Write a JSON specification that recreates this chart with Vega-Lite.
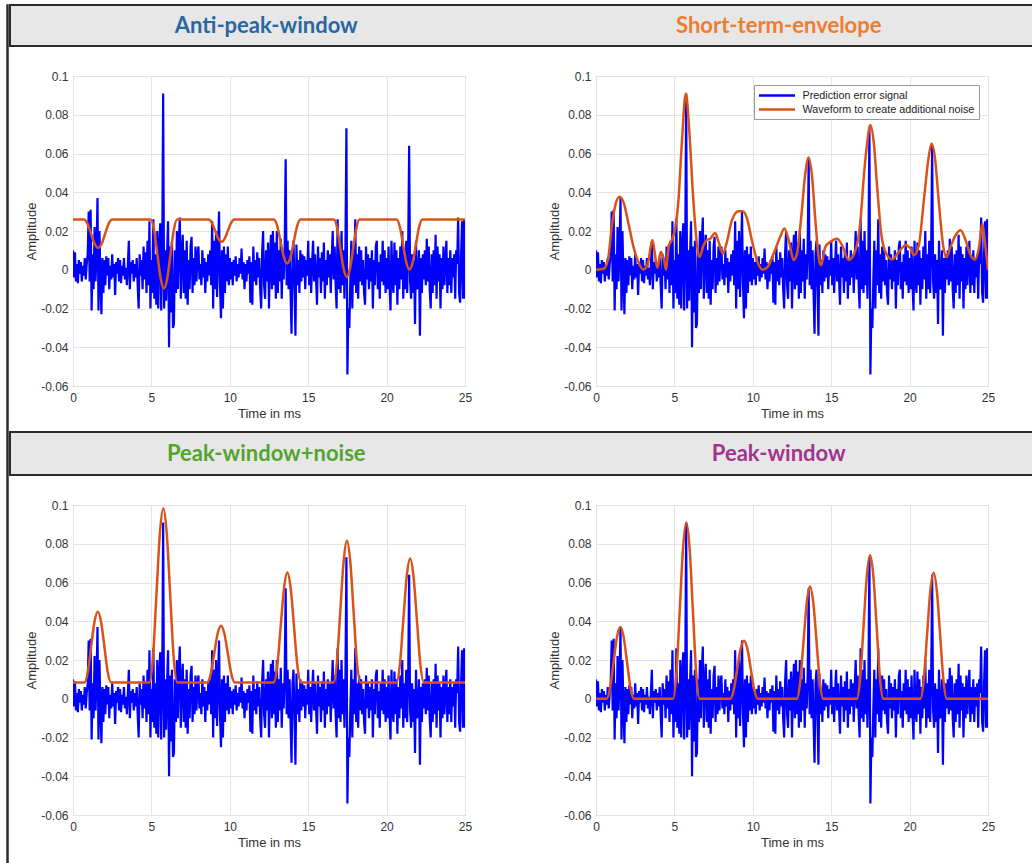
{
"$schema": "https://vega.github.io/schema/vega-lite/v6.json",
"background": "white",
"padding": {"left": 6, "top": 4, "right": 0, "bottom": 0},
"config": {
  "font": "Liberation Sans",
  "view": {"stroke": "#8c8c8c", "strokeWidth": 1},
  "axis": {"labelFont": "Liberation Sans", "titleFont": "Liberation Sans", "labelFontSize": 12, "titleFontSize": 13, "titleFontWeight": "normal", "labelColor": "#333333", "titleColor": "#333333", "ticks": false, "domain": false, "grid": true, "gridColor": "#e4e4e4", "labelOverlap": false},
  "axisX": {"labelPadding": 6, "titlePadding": 4, "tickCount": 10},
  "axisY": {"labelPadding": 5, "titlePadding": 3, "minExtent": 32, "maxExtent": 32, "tickCount": 12}
},
"datasets": {
"sig": [
{"t":0,"a":0.010},{"t":0.0625,"a":-0.004},{"t":0.125,"a":0.009},{"t":0.1875,"a":-0.006},{"t":0.25,"a":0.003},{"t":0.3125,"a":-0.007},{"t":0.375,"a":0.005},{"t":0.4375,"a":-0.002},{"t":0.5,"a":0.004},{"t":0.5625,"a":-0.006},{"t":0.625,"a":0.002},{"t":0.6875,"a":-0.003},{"t":0.75,"a":0.006},{"t":0.8125,"a":-0.005},{"t":0.875,"a":0.003},{"t":0.9375,"a":0.008},
{"t":1,"a":0.030},{"t":1.0625,"a":-0.006},{"t":1.125,"a":0.031},{"t":1.1875,"a":-0.021},{"t":1.25,"a":0.008},{"t":1.3125,"a":-0.010},{"t":1.375,"a":0.022},{"t":1.4375,"a":-0.006},{"t":1.5,"a":0.010},{"t":1.5625,"a":0.037},{"t":1.625,"a":-0.021},{"t":1.6875,"a":0.020},{"t":1.75,"a":-0.005},{"t":1.8125,"a":-0.023},{"t":1.875,"a":0.006},{"t":1.9375,"a":-0.012},
{"t":2,"a":0.005},{"t":2.0625,"a":-0.008},{"t":2.125,"a":0.007},{"t":2.1875,"a":-0.003},{"t":2.25,"a":0.006},{"t":2.3125,"a":-0.010},{"t":2.375,"a":0.002},{"t":2.4375,"a":-0.005},{"t":2.5,"a":0.008},{"t":2.5625,"a":-0.004},{"t":2.625,"a":0.003},{"t":2.6875,"a":-0.013},{"t":2.75,"a":0.004},{"t":2.8125,"a":-0.002},{"t":2.875,"a":0.006},{"t":2.9375,"a":-0.006},
{"t":3,"a":0.005},{"t":3.0625,"a":-0.007},{"t":3.125,"a":0.002},{"t":3.1875,"a":-0.003},{"t":3.25,"a":0.006},{"t":3.3125,"a":-0.005},{"t":3.375,"a":0.001},{"t":3.4375,"a":-0.008},{"t":3.5,"a":0.003},{"t":3.5625,"a":0.015},{"t":3.625,"a":-0.010},{"t":3.6875,"a":0.004},{"t":3.75,"a":-0.002},{"t":3.8125,"a":0.005},{"t":3.875,"a":-0.006},{"t":3.9375,"a":0.003},
{"t":4,"a":-0.004},{"t":4.0625,"a":0.006},{"t":4.125,"a":-0.008},{"t":4.1875,"a":-0.020},{"t":4.25,"a":0.008},{"t":4.3125,"a":-0.003},{"t":4.375,"a":0.005},{"t":4.4375,"a":-0.010},{"t":4.5,"a":0.012},{"t":4.5625,"a":-0.005},{"t":4.625,"a":0.009},{"t":4.6875,"a":-0.012},{"t":4.75,"a":0.015},{"t":4.8125,"a":-0.008},{"t":4.875,"a":0.025},{"t":4.9375,"a":-0.020},
{"t":5,"a":0.005},{"t":5.0625,"a":-0.012},{"t":5.125,"a":0.026},{"t":5.1875,"a":-0.015},{"t":5.25,"a":0.008},{"t":5.3125,"a":-0.018},{"t":5.375,"a":0.020},{"t":5.4375,"a":-0.020},{"t":5.5,"a":0.012},{"t":5.5625,"a":0.024},{"t":5.625,"a":-0.021},{"t":5.6875,"a":0.006},{"t":5.75,"a":0.091},{"t":5.8125,"a":-0.020},{"t":5.875,"a":0.010},{"t":5.9375,"a":-0.016},
{"t":6,"a":0.008},{"t":6.0625,"a":0.025},{"t":6.125,"a":-0.040},{"t":6.1875,"a":0.012},{"t":6.25,"a":-0.022},{"t":6.3125,"a":0.015},{"t":6.375,"a":-0.030},{"t":6.4375,"a":-0.028},{"t":6.5,"a":0.010},{"t":6.5625,"a":-0.012},{"t":6.625,"a":0.020},{"t":6.6875,"a":-0.010},{"t":6.75,"a":0.015},{"t":6.8125,"a":0.027},{"t":6.875,"a":-0.015},{"t":6.9375,"a":0.008},
{"t":7,"a":0.018},{"t":7.0625,"a":-0.012},{"t":7.125,"a":0.010},{"t":7.1875,"a":-0.015},{"t":7.25,"a":0.015},{"t":7.3125,"a":-0.018},{"t":7.375,"a":0.005},{"t":7.4375,"a":-0.010},{"t":7.5,"a":0.012},{"t":7.5625,"a":0.017},{"t":7.625,"a":-0.012},{"t":7.6875,"a":0.006},{"t":7.75,"a":-0.008},{"t":7.8125,"a":0.012},{"t":7.875,"a":-0.006},{"t":7.9375,"a":0.008},
{"t":8,"a":0.012},{"t":8.0625,"a":-0.005},{"t":8.125,"a":0.003},{"t":8.1875,"a":-0.008},{"t":8.25,"a":0.010},{"t":8.3125,"a":-0.004},{"t":8.375,"a":0.006},{"t":8.4375,"a":-0.012},{"t":8.5,"a":0.004},{"t":8.5625,"a":-0.006},{"t":8.625,"a":0.008},{"t":8.6875,"a":-0.003},{"t":8.75,"a":0.010},{"t":8.8125,"a":-0.008},{"t":8.875,"a":0.025},{"t":8.9375,"a":-0.020},
{"t":9,"a":0.015},{"t":9.0625,"a":-0.010},{"t":9.125,"a":0.020},{"t":9.1875,"a":-0.014},{"t":9.25,"a":0.008},{"t":9.3125,"a":0.030},{"t":9.375,"a":-0.008},{"t":9.4375,"a":-0.025},{"t":9.5,"a":0.010},{"t":9.5625,"a":-0.020},{"t":9.625,"a":0.012},{"t":9.6875,"a":-0.012},{"t":9.75,"a":0.008},{"t":9.8125,"a":-0.006},{"t":9.875,"a":0.012},{"t":9.9375,"a":-0.008},
{"t":10,"a":0.006},{"t":10.0625,"a":-0.005},{"t":10.125,"a":0.004},{"t":10.1875,"a":-0.008},{"t":10.25,"a":0.005},{"t":10.3125,"a":-0.003},{"t":10.375,"a":0.007},{"t":10.4375,"a":-0.006},{"t":10.5,"a":0.003},{"t":10.5625,"a":-0.004},{"t":10.625,"a":0.006},{"t":10.6875,"a":-0.002},{"t":10.75,"a":0.011},{"t":10.8125,"a":-0.005},{"t":10.875,"a":0.004},{"t":10.9375,"a":-0.010},
{"t":11,"a":0.003},{"t":11.0625,"a":-0.006},{"t":11.125,"a":0.005},{"t":11.1875,"a":-0.002},{"t":11.25,"a":0.007},{"t":11.3125,"a":-0.017},{"t":11.375,"a":0.004},{"t":11.4375,"a":-0.018},{"t":11.5,"a":0.012},{"t":11.5625,"a":-0.006},{"t":11.625,"a":0.005},{"t":11.6875,"a":-0.008},{"t":11.75,"a":0.009},{"t":11.8125,"a":-0.004},{"t":11.875,"a":0.006},{"t":11.9375,"a":-0.010},
{"t":12,"a":-0.020},{"t":12.0625,"a":0.009},{"t":12.125,"a":0.020},{"t":12.1875,"a":-0.008},{"t":12.25,"a":-0.015},{"t":12.3125,"a":0.010},{"t":12.375,"a":-0.006},{"t":12.4375,"a":0.014},{"t":12.5,"a":-0.020},{"t":12.5625,"a":0.006},{"t":12.625,"a":0.018},{"t":12.6875,"a":-0.010},{"t":12.75,"a":0.020},{"t":12.8125,"a":-0.008},{"t":12.875,"a":0.014},{"t":12.9375,"a":-0.015},
{"t":13,"a":0.020},{"t":13.0625,"a":-0.012},{"t":13.125,"a":0.010},{"t":13.1875,"a":-0.006},{"t":13.25,"a":0.016},{"t":13.3125,"a":-0.015},{"t":13.375,"a":0.008},{"t":13.4375,"a":-0.005},{"t":13.5,"a":0.012},{"t":13.5625,"a":0.057},{"t":13.625,"a":-0.008},{"t":13.6875,"a":0.015},{"t":13.75,"a":-0.010},{"t":13.8125,"a":0.010},{"t":13.875,"a":-0.012},{"t":13.9375,"a":-0.033},
{"t":14,"a":0.008},{"t":14.0625,"a":0.015},{"t":14.125,"a":-0.010},{"t":14.1875,"a":-0.034},{"t":14.25,"a":0.013},{"t":14.3125,"a":-0.008},{"t":14.375,"a":0.005},{"t":14.4375,"a":-0.012},{"t":14.5,"a":0.010},{"t":14.5625,"a":-0.006},{"t":14.625,"a":0.008},{"t":14.6875,"a":-0.004},{"t":14.75,"a":0.007},{"t":14.8125,"a":-0.010},{"t":14.875,"a":0.005},{"t":14.9375,"a":-0.003},
{"t":15,"a":0.015},{"t":15.0625,"a":-0.008},{"t":15.125,"a":0.006},{"t":15.1875,"a":-0.012},{"t":15.25,"a":0.004},{"t":15.3125,"a":0.015},{"t":15.375,"a":-0.006},{"t":15.4375,"a":0.008},{"t":15.5,"a":-0.005},{"t":15.5625,"a":-0.018},{"t":15.625,"a":0.012},{"t":15.6875,"a":-0.004},{"t":15.75,"a":0.006},{"t":15.8125,"a":-0.012},{"t":15.875,"a":0.009},{"t":15.9375,"a":-0.006},
{"t":16,"a":0.014},{"t":16.0625,"a":-0.015},{"t":16.125,"a":0.005},{"t":16.1875,"a":-0.008},{"t":16.25,"a":0.010},{"t":16.3125,"a":-0.004},{"t":16.375,"a":0.008},{"t":16.4375,"a":-0.012},{"t":16.5,"a":0.006},{"t":16.5625,"a":0.020},{"t":16.625,"a":-0.005},{"t":16.6875,"a":0.012},{"t":16.75,"a":-0.008},{"t":16.8125,"a":-0.020},{"t":16.875,"a":0.026},{"t":16.9375,"a":-0.010},
{"t":17,"a":0.015},{"t":17.0625,"a":-0.012},{"t":17.125,"a":0.020},{"t":17.1875,"a":-0.008},{"t":17.25,"a":0.010},{"t":17.3125,"a":-0.015},{"t":17.375,"a":0.012},{"t":17.4375,"a":0.073},{"t":17.5,"a":-0.054},{"t":17.5625,"a":-0.020},{"t":17.625,"a":-0.030},{"t":17.6875,"a":-0.005},{"t":17.75,"a":0.015},{"t":17.8125,"a":-0.020},{"t":17.875,"a":0.010},{"t":17.9375,"a":-0.008},
{"t":18,"a":0.026},{"t":18.0625,"a":-0.012},{"t":18.125,"a":0.008},{"t":18.1875,"a":-0.015},{"t":18.25,"a":0.012},{"t":18.3125,"a":-0.006},{"t":18.375,"a":0.010},{"t":18.4375,"a":-0.008},{"t":18.5,"a":0.005},{"t":18.5625,"a":-0.012},{"t":18.625,"a":-0.018},{"t":18.6875,"a":0.012},{"t":18.75,"a":-0.005},{"t":18.8125,"a":0.008},{"t":18.875,"a":-0.010},{"t":18.9375,"a":0.006},
{"t":19,"a":-0.006},{"t":19.0625,"a":0.010},{"t":19.125,"a":-0.020},{"t":19.1875,"a":0.005},{"t":19.25,"a":-0.008},{"t":19.3125,"a":0.012},{"t":19.375,"a":0.015},{"t":19.4375,"a":-0.010},{"t":19.5,"a":0.004},{"t":19.5625,"a":-0.015},{"t":19.625,"a":0.008},{"t":19.6875,"a":-0.006},{"t":19.75,"a":0.015},{"t":19.8125,"a":-0.008},{"t":19.875,"a":0.010},{"t":19.9375,"a":-0.012},
{"t":20,"a":0.006},{"t":20.0625,"a":-0.010},{"t":20.125,"a":0.012},{"t":20.1875,"a":-0.008},{"t":20.25,"a":-0.021},{"t":20.3125,"a":0.015},{"t":20.375,"a":-0.006},{"t":20.4375,"a":-0.012},{"t":20.5,"a":0.014},{"t":20.5625,"a":-0.008},{"t":20.625,"a":0.010},{"t":20.6875,"a":-0.018},{"t":20.75,"a":0.006},{"t":20.8125,"a":-0.010},{"t":20.875,"a":0.012},{"t":20.9375,"a":-0.005},
{"t":21,"a":0.020},{"t":21.0625,"a":-0.015},{"t":21.125,"a":0.008},{"t":21.1875,"a":-0.010},{"t":21.25,"a":0.015},{"t":21.3125,"a":-0.012},{"t":21.375,"a":0.010},{"t":21.4375,"a":0.064},{"t":21.5,"a":-0.006},{"t":21.5625,"a":-0.015},{"t":21.625,"a":0.008},{"t":21.6875,"a":-0.012},{"t":21.75,"a":0.005},{"t":21.8125,"a":-0.028},{"t":21.875,"a":0.015},{"t":21.9375,"a":-0.010},
{"t":22,"a":-0.008},{"t":22.0625,"a":0.010},{"t":22.125,"a":-0.034},{"t":22.1875,"a":0.006},{"t":22.25,"a":-0.012},{"t":22.3125,"a":0.008},{"t":22.375,"a":-0.005},{"t":22.4375,"a":0.010},{"t":22.5,"a":-0.008},{"t":22.5625,"a":0.016},{"t":22.625,"a":-0.006},{"t":22.6875,"a":0.012},{"t":22.75,"a":-0.010},{"t":22.8125,"a":-0.020},{"t":22.875,"a":0.008},{"t":22.9375,"a":-0.012},
{"t":23,"a":0.010},{"t":23.0625,"a":-0.008},{"t":23.125,"a":0.018},{"t":23.1875,"a":-0.015},{"t":23.25,"a":0.012},{"t":23.3125,"a":-0.006},{"t":23.375,"a":0.008},{"t":23.4375,"a":-0.020},{"t":23.5,"a":0.006},{"t":23.5625,"a":-0.010},{"t":23.625,"a":0.012},{"t":23.6875,"a":-0.008},{"t":23.75,"a":0.005},{"t":23.8125,"a":0.015},{"t":23.875,"a":-0.012},{"t":23.9375,"a":0.006},
{"t":24,"a":-0.008},{"t":24.0625,"a":0.010},{"t":24.125,"a":-0.012},{"t":24.1875,"a":0.006},{"t":24.25,"a":-0.004},{"t":24.3125,"a":0.008},{"t":24.375,"a":-0.015},{"t":24.4375,"a":0.010},{"t":24.5,"a":0.003},{"t":24.5625,"a":0.027},{"t":24.625,"a":-0.012},{"t":24.6875,"a":-0.017},{"t":24.75,"a":0.008},{"t":24.8125,"a":0.025},{"t":24.875,"a":-0.015},{"t":24.9375,"a":0.026},
{"t":25,"a":-0.015}
],
"anti": [
{"t":0,"v":0.0259},
{"t":0.70,"v":0.0259},{"t":0.925,"v":0.0238},{"t":1.15,"v":0.0186},{"t":1.375,"v":0.0134},{"t":1.60,"v":0.0113},{"t":1.825,"v":0.0134},{"t":2.05,"v":0.0186},{"t":2.275,"v":0.0238},{"t":2.50,"v":0.0259},
{"t":4.96,"v":0.0259},{"t":5.17,"v":0.0207},{"t":5.38,"v":0.0081},{"t":5.59,"v":-0.0045},{"t":5.80,"v":-0.0097},{"t":6.01,"v":-0.0045},{"t":6.22,"v":0.0081},{"t":6.43,"v":0.0207},{"t":6.64,"v":0.0259},
{"t":8.65,"v":0.0259},{"t":8.855,"v":0.0242},{"t":9.06,"v":0.0202},{"t":9.265,"v":0.0161},{"t":9.47,"v":0.0144},{"t":9.675,"v":0.0161},{"t":9.88,"v":0.0202},{"t":10.085,"v":0.0242},{"t":10.29,"v":0.0259},
{"t":12.81,"v":0.0259},{"t":13.023,"v":0.0226},{"t":13.235,"v":0.0146},{"t":13.448,"v":0.0065},{"t":13.66,"v":0.0032},{"t":13.873,"v":0.0065},{"t":14.085,"v":0.0146},{"t":14.298,"v":0.0226},{"t":14.51,"v":0.0259},
{"t":16.64,"v":0.0259},{"t":16.845,"v":0.0216},{"t":17.05,"v":0.0111},{"t":17.255,"v":0.0006},{"t":17.46,"v":-0.0037},{"t":17.665,"v":0.0006},{"t":17.87,"v":0.0111},{"t":18.075,"v":0.0216},{"t":18.28,"v":0.0259},
{"t":20.64,"v":0.0259},{"t":20.845,"v":0.0221},{"t":21.05,"v":0.013},{"t":21.255,"v":0.0039},{"t":21.46,"v":0.0001},{"t":21.665,"v":0.0039},{"t":21.87,"v":0.013},{"t":22.075,"v":0.0221},{"t":22.28,"v":0.0259},
{"t":25,"v":0.0259}
],
"ste": [
{"t":0,"v":0},{"t":0.5,"v":0.0005},{"t":0.79,"v":0.0066},{"t":1.0,"v":0.022},{"t":1.21,"v":0.0325},{"t":1.49,"v":0.0377},{"t":1.75,"v":0.035},{"t":2.07,"v":0.0239},{"t":2.39,"v":0.0118},{"t":2.7,"v":0.004},{"t":3.02,"v":0.0001},{"t":3.28,"v":0.0023},{"t":3.6,"v":0.0153},{"t":3.81,"v":0.005},{"t":3.92,"v":0.001},{"t":4.13,"v":0.0092},{"t":4.34,"v":0.005},{"t":4.47,"v":0.0},{"t":4.62,"v":0.0118},{"t":4.83,"v":0.0153},{"t":5.05,"v":0.0213},{"t":5.26,"v":0.0359},{"t":5.47,"v":0.065},{"t":5.73,"v":0.091},{"t":5.96,"v":0.0704},{"t":6.18,"v":0.0394},{"t":6.39,"v":0.017},{"t":6.6,"v":0.0066},{"t":6.86,"v":0.0127},{"t":7.07,"v":0.0153},{"t":7.28,"v":0.016},{"t":7.6,"v":0.019},{"t":7.82,"v":0.0144},{"t":8.09,"v":0.0084},{"t":8.35,"v":0.0144},{"t":8.67,"v":0.0256},{"t":9.09,"v":0.0302},{"t":9.35,"v":0.0302},{"t":9.63,"v":0.0265},{"t":9.94,"v":0.0153},{"t":10.26,"v":0.005},{"t":10.63,"v":0.0},{"t":10.95,"v":0.0015},{"t":11.33,"v":0.0084},{"t":11.75,"v":0.017},{"t":12.01,"v":0.0213},{"t":12.29,"v":0.0153},{"t":12.61,"v":0.005},{"t":12.82,"v":0.0084},{"t":13.07,"v":0.0256},{"t":13.35,"v":0.0497},{"t":13.56,"v":0.058},{"t":13.78,"v":0.048},{"t":13.99,"v":0.0256},{"t":14.2,"v":0.0066},{"t":14.35,"v":0.0023},{"t":14.63,"v":0.0118},{"t":14.95,"v":0.0144},{"t":15.37,"v":0.016},{"t":15.69,"v":0.0127},{"t":16.12,"v":0.005},{"t":16.55,"v":0.0101},{"t":16.87,"v":0.0256},{"t":17.08,"v":0.048},{"t":17.29,"v":0.0652},{"t":17.5,"v":0.0747},{"t":17.72,"v":0.0652},{"t":17.93,"v":0.0428},{"t":18.19,"v":0.0187},{"t":18.46,"v":0.0092},{"t":18.89,"v":0.0053},{"t":19.31,"v":0.0092},{"t":19.74,"v":0.0127},{"t":20.06,"v":0.011},{"t":20.27,"v":0.0075},{"t":20.59,"v":0.0127},{"t":20.91,"v":0.0359},{"t":21.19,"v":0.0566},{"t":21.4,"v":0.0652},{"t":21.61,"v":0.0583},{"t":21.87,"v":0.0342},{"t":22.15,"v":0.0118},{"t":22.36,"v":0.0066},{"t":22.61,"v":0.0118},{"t":22.93,"v":0.0178},{"t":23.25,"v":0.0204},{"t":23.57,"v":0.0153},{"t":23.89,"v":0.0075},{"t":24.17,"v":0.0053},{"t":24.43,"v":0.0118},{"t":24.64,"v":0.0239},{"t":24.79,"v":0.0153},{"t":25,"v":0}
],
"pwn": [
{"t":0,"v":0.0084},
{"t":0.73,"v":0.0084},{"t":0.943,"v":0.0137},{"t":1.155,"v":0.0267},{"t":1.368,"v":0.0396},{"t":1.58,"v":0.0449},{"t":1.793,"v":0.0396},{"t":2.005,"v":0.0267},{"t":2.218,"v":0.0137},{"t":2.43,"v":0.0084},
{"t":4.88,"v":0.0084},{"t":5.10,"v":0.0215},{"t":5.32,"v":0.0534},{"t":5.54,"v":0.0852},{"t":5.76,"v":0.0983},{"t":5.98,"v":0.0852},{"t":6.20,"v":0.0534},{"t":6.42,"v":0.0215},{"t":6.64,"v":0.0084},
{"t":8.56,"v":0.0084},{"t":8.78,"v":0.0127},{"t":9.00,"v":0.0231},{"t":9.22,"v":0.0334},{"t":9.44,"v":0.0377},{"t":9.66,"v":0.0334},{"t":9.88,"v":0.0231},{"t":10.10,"v":0.0127},{"t":10.32,"v":0.0084},
{"t":12.81,"v":0.0084},{"t":13.025,"v":0.0167},{"t":13.24,"v":0.0368},{"t":13.455,"v":0.0569},{"t":13.67,"v":0.0652},{"t":13.885,"v":0.0569},{"t":14.10,"v":0.0368},{"t":14.315,"v":0.0167},{"t":14.53,"v":0.0084},
{"t":16.62,"v":0.0084},{"t":16.833,"v":0.0191},{"t":17.045,"v":0.045},{"t":17.258,"v":0.0709},{"t":17.47,"v":0.0816},{"t":17.683,"v":0.0709},{"t":17.895,"v":0.045},{"t":18.108,"v":0.0191},{"t":18.32,"v":0.0084},
{"t":20.63,"v":0.0084},{"t":20.848,"v":0.0177},{"t":21.065,"v":0.0404},{"t":21.283,"v":0.0631},{"t":21.5,"v":0.0724},{"t":21.718,"v":0.0631},{"t":21.935,"v":0.0404},{"t":22.153,"v":0.0177},{"t":22.37,"v":0.0084},
{"t":25,"v":0.0084}
],
"pw": [
{"t":0,"v":0},
{"t":0.68,"v":0},{"t":0.898,"v":0.0054},{"t":1.115,"v":0.0185},{"t":1.333,"v":0.0316},{"t":1.55,"v":0.037},{"t":1.768,"v":0.0316},{"t":1.985,"v":0.0185},{"t":2.203,"v":0.0054},{"t":2.42,"v":0},
{"t":4.92,"v":0},{"t":5.13,"v":0.0133},{"t":5.34,"v":0.0455},{"t":5.55,"v":0.0777},{"t":5.76,"v":0.091},{"t":5.97,"v":0.0777},{"t":6.18,"v":0.0455},{"t":6.39,"v":0.0133},{"t":6.60,"v":0},
{"t":8.56,"v":0},{"t":8.78,"v":0.0044},{"t":9.00,"v":0.015},{"t":9.22,"v":0.0256},{"t":9.44,"v":0.030},{"t":9.66,"v":0.0256},{"t":9.88,"v":0.015},{"t":10.10,"v":0.0044},{"t":10.32,"v":0},
{"t":12.81,"v":0},{"t":13.02,"v":0.0085},{"t":13.23,"v":0.029},{"t":13.44,"v":0.0495},{"t":13.65,"v":0.058},{"t":13.86,"v":0.0495},{"t":14.07,"v":0.029},{"t":14.28,"v":0.0085},{"t":14.49,"v":0},
{"t":16.64,"v":0},{"t":16.85,"v":0.0108},{"t":17.06,"v":0.037},{"t":17.27,"v":0.0632},{"t":17.48,"v":0.074},{"t":17.69,"v":0.0632},{"t":17.90,"v":0.037},{"t":18.11,"v":0.0108},{"t":18.32,"v":0},
{"t":20.69,"v":0},{"t":20.90,"v":0.0095},{"t":21.11,"v":0.0325},{"t":21.32,"v":0.0555},{"t":21.53,"v":0.065},{"t":21.74,"v":0.0555},{"t":21.95,"v":0.0325},{"t":22.16,"v":0.0095},{"t":22.37,"v":0},
{"t":25,"v":0}
]
},
"spacing": 0,
"resolve": {"scale": {"color": "independent"}},
"hconcat": [
  {"width": 1, "height": 859, "view": {"stroke": "#2b2b2b", "strokeWidth": 1.5, "fill": null}, "data": {"values": []}, "mark": "rule", "encoding": {}},
  {"spacing": 10, "resolve": {"scale": {"color": "independent"}}, "vconcat": [
    {"spacing": 22, "resolve": {"scale": {"color": "independent"}}, "vconcat": [
      {"width": 1025, "height": 41, "view": {"fill": "#e7e7e7", "stroke": "#2b2b2b", "strokeWidth": 2},
       "data": {"values": [{"title": "Anti-peak-window", "col": "left"}, {"title": "Short-term-envelope", "col": "right"}]},
       "mark": {"type": "text", "font": "Lato", "fontWeight": "bold", "fontSize": 22},
       "encoding": {
         "x": {"field": "col", "type": "nominal", "axis": null, "scale": {"domain": ["left", "right"]}},
         "text": {"field": "title"},
         "color": {"field": "title", "type": "nominal", "legend": null, "scale": {"domain": ["Anti-peak-window", "Short-term-envelope"], "range": ["#2a66a0", "#ed7d31"]}}
       }},
      {"spacing": 0, "resolve": {"scale": {"color": "independent"}}, "hconcat": [
        {"width": 14, "height": 1, "view": {"stroke": null}, "data": {"values": []}, "mark": "rule", "encoding": {}},
        {"spacing": 74, "resolve": {"scale": {"color": "independent"}}, "hconcat": [
          {"width": 392, "height": 310, "layer": [
            {"data": {"name": "sig"}, "mark": {"type": "line", "color": "#0000ff", "strokeWidth": 2.2, "clip": true},
             "encoding": {
               "x": {"field": "t", "type": "quantitative", "scale": {"domain": [0, 25], "nice": false}, "axis": {"title": "Time in ms", "values": [0, 5, 10, 15, 20, 25], "labelFlush": false}},
               "y": {"field": "a", "type": "quantitative", "scale": {"domain": [-0.06, 0.1], "nice": false, "zero": false}, "axis": {"title": "Amplitude", "values": [-0.06, -0.04, -0.02, 0, 0.02, 0.04, 0.06, 0.08, 0.1], "tickCount": 12, "format": "~g", "labelExpr": "replace(datum.label, '−', '-')"}}
             }},
            {"data": {"name": "anti"}, "mark": {"type": "line", "color": "#d95319", "strokeWidth": 2.5, "interpolate": "monotone", "clip": true},
             "encoding": {"x": {"field": "t", "type": "quantitative"}, "y": {"field": "v", "type": "quantitative"}}}
          ]},
          {"width": 392, "height": 310, "layer": [
            {"data": {"name": "sig"}, "mark": {"type": "line", "strokeWidth": 2.2, "clip": true},
             "encoding": {
               "x": {"field": "t", "type": "quantitative", "scale": {"domain": [0, 25], "nice": false}, "axis": {"title": "Time in ms", "values": [0, 5, 10, 15, 20, 25], "labelFlush": false}},
               "y": {"field": "a", "type": "quantitative", "scale": {"domain": [-0.06, 0.1], "nice": false, "zero": false}, "axis": {"title": "Amplitude", "values": [-0.06, -0.04, -0.02, 0, 0.02, 0.04, 0.06, 0.08, 0.1], "tickCount": 12, "format": "~g", "labelExpr": "replace(datum.label, '−', '-')"}},
               "color": {"datum": "Prediction error signal", "type": "nominal",
                 "scale": {"domain": ["Prediction error signal", "Waveform to create additional noise"], "range": ["#0000ff", "#d95319"]},
                 "legend": {"title": null, "orient": "top-right", "offset": 9, "fillColor": "white", "strokeColor": "#999999", "padding": 4, "labelFont": "Liberation Sans", "labelFontSize": 10.8, "labelColor": "#222222", "symbolType": "M-3.6,0H3.6", "symbolSize": 100, "symbolStrokeWidth": 2.5, "symbolOffset": 12.5, "labelOffset": 19, "rowPadding": 2, "labelLimit": 400}}
             }},
            {"data": {"name": "ste"}, "mark": {"type": "line", "strokeWidth": 2.5, "interpolate": "monotone", "clip": true},
             "encoding": {"x": {"field": "t", "type": "quantitative"}, "y": {"field": "v", "type": "quantitative"}, "color": {"datum": "Waveform to create additional noise", "type": "nominal"}}}
          ]}
        ]}
      ]}
    ]},
    {"spacing": 22, "resolve": {"scale": {"color": "independent"}}, "vconcat": [
      {"width": 1025, "height": 43, "view": {"fill": "#e7e7e7", "stroke": "#2b2b2b", "strokeWidth": 2},
       "data": {"values": [{"title": "Peak-window+noise", "col": "left"}, {"title": "Peak-window", "col": "right"}]},
       "mark": {"type": "text", "font": "Lato", "fontWeight": "bold", "fontSize": 22},
       "encoding": {
         "x": {"field": "col", "type": "nominal", "axis": null, "scale": {"domain": ["left", "right"]}},
         "text": {"field": "title"},
         "color": {"field": "title", "type": "nominal", "legend": null, "scale": {"domain": ["Peak-window+noise", "Peak-window"], "range": ["#53a52d", "#a2348f"]}}
       }},
      {"spacing": 0, "resolve": {"scale": {"color": "independent"}}, "hconcat": [
        {"width": 14, "height": 1, "view": {"stroke": null}, "data": {"values": []}, "mark": "rule", "encoding": {}},
        {"spacing": 74, "resolve": {"scale": {"color": "independent"}}, "hconcat": [
          {"width": 392, "height": 310, "layer": [
            {"data": {"name": "sig"}, "mark": {"type": "line", "color": "#0000ff", "strokeWidth": 2.2, "clip": true},
             "encoding": {
               "x": {"field": "t", "type": "quantitative", "scale": {"domain": [0, 25], "nice": false}, "axis": {"title": "Time in ms", "values": [0, 5, 10, 15, 20, 25], "labelFlush": false}},
               "y": {"field": "a", "type": "quantitative", "scale": {"domain": [-0.06, 0.1], "nice": false, "zero": false}, "axis": {"title": "Amplitude", "values": [-0.06, -0.04, -0.02, 0, 0.02, 0.04, 0.06, 0.08, 0.1], "tickCount": 12, "format": "~g", "labelExpr": "replace(datum.label, '−', '-')"}}
             }},
            {"data": {"name": "pwn"}, "mark": {"type": "line", "color": "#d95319", "strokeWidth": 2.5, "interpolate": "monotone", "clip": true},
             "encoding": {"x": {"field": "t", "type": "quantitative"}, "y": {"field": "v", "type": "quantitative"}}}
          ]},
          {"width": 392, "height": 310, "layer": [
            {"data": {"name": "sig"}, "mark": {"type": "line", "color": "#0000ff", "strokeWidth": 2.2, "clip": true},
             "encoding": {
               "x": {"field": "t", "type": "quantitative", "scale": {"domain": [0, 25], "nice": false}, "axis": {"title": "Time in ms", "values": [0, 5, 10, 15, 20, 25], "labelFlush": false}},
               "y": {"field": "a", "type": "quantitative", "scale": {"domain": [-0.06, 0.1], "nice": false, "zero": false}, "axis": {"title": "Amplitude", "values": [-0.06, -0.04, -0.02, 0, 0.02, 0.04, 0.06, 0.08, 0.1], "tickCount": 12, "format": "~g", "labelExpr": "replace(datum.label, '−', '-')"}}
             }},
            {"data": {"name": "pw"}, "mark": {"type": "line", "color": "#d95319", "strokeWidth": 2.5, "interpolate": "monotone", "clip": true},
             "encoding": {"x": {"field": "t", "type": "quantitative"}, "y": {"field": "v", "type": "quantitative"}}}
          ]}
        ]}
      ]}
    ]}
  ]}
]
}
